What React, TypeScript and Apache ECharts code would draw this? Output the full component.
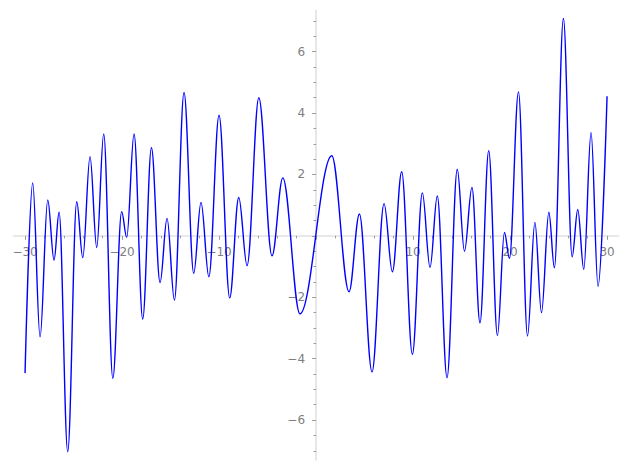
import { useEffect, useRef } from 'react';
import * as echarts from 'echarts';

// Curve: local extrema (x, y)
const X_VALUES = [
  -30.0, -29.21, -28.45, -27.66, -27.01, -26.49, -25.6, -24.67, -24.05, -23.3,
  -22.61, -21.89, -20.95, -20.04, -19.52, -18.76, -17.87, -16.97, -16.08, -15.36,
  -14.6, -13.61, -12.61, -11.86, -11.05, -10.0, -8.9, -7.97, -7.11, -5.9,
  -4.54, -3.43, -1.66, 1.62, 3.4, 4.47, 5.77, 7.01, 7.87, 8.83,
  9.93, 10.96, 11.75, 12.5, 13.5, 14.56, 15.3, 16.07, 16.9, 17.8,
  18.7, 19.42, 19.94, 20.87, 21.8, 22.56, 23.24, 24.0, 24.57, 25.5,
  26.4, 26.98, 27.6, 28.35, 29.07, 30.0,
];
const Y_VALUES = [
  -4.47, 1.72, -3.29, 1.17, -0.79, 0.77, -7.03, 1.11, -0.71, 2.58,
  -0.38, 3.32, -4.64, 0.79, -0.05, 3.32, -2.71, 2.87, -1.52, 0.57,
  -2.09, 4.67, -1.22, 1.09, -1.33, 3.93, -2.02, 1.25, -0.97, 4.5,
  -0.65, 1.89, -2.54, 2.61, -1.82, 0.71, -4.43, 1.05, -1.17, 2.09,
  -3.86, 1.4, -1.03, 1.3, -4.62, 2.17, -0.5, 1.58, -2.83, 2.77,
  -3.25, 0.11, -0.73, 4.69, -3.26, 0.44, -2.5, 0.77, -1.04, 7.08,
  -0.68, 0.86, -1.09, 3.36, -1.64, 4.55,
];

const X_MAJOR = [-30, -20, -10, 0, 10, 20, 30];
const X_MINOR = [-28, -26, -24, -22, -18, -16, -14, -12, -8, -6, -4, -2, 2, 4, 6, 8, 12, 14, 16, 18, 22, 24, 26, 28];
const Y_MAJOR = [-6, -4, -2, 0, 2, 4, 6];
const Y_MINOR = [-7, -6.5, -5.5, -5, -4.5, -3.5, -3, -2.5, -1.5, -1, -0.5, 0.5, 1, 1.5, 2.5, 3, 3.5, 4.5, 5, 5.5, 6.5, 7];
const X_LABELS = [-30, -20, -10, 10, 20, 30];
const Y_LABELS = [-6, -4, -2, 2, 4, 6];

const X_MIN = -31.2;
const X_MAX = 31.2;
const Y_MIN = -7.3;
const Y_MAX = 7.35;

export default function App() {
  const ref = useRef<HTMLDivElement>(null);
  useEffect(() => {
    if (!ref.current) return;
    const chart = echarts.init(ref.current, undefined, { renderer: 'svg' });
    const data = X_VALUES.map((x, i) => [x, Y_VALUES[i]]);
    const fmt = (v: number) => (v === 0 ? '' : v < 0 ? '\u2212' + Math.abs(v) : String(v));
    const gridRect = { left: 13.4, top: 10.2, width: 605.3, height: 449.8, outerBoundsMode: 'none' };
    const axisLine = { onZero: true, lineStyle: { color: '#e2e2e2', width: 1.6 } };
    const hiddenLine = { onZero: true, lineStyle: { color: '#ffffff', opacity: 0 } };
    const tickColor = '#9a9a9a';
    chart.setOption({
      animation: false,
      backgroundColor: '#ffffff',
      grid: [gridRect, gridRect],
      xAxis: [
        {
          type: 'value', gridIndex: 0, min: X_MIN, max: X_MAX,
          axisLine,
          axisTick: { show: true, customValues: X_MAJOR, length: 4, lineStyle: { color: tickColor, width: 1 } },
          axisLabel: { show: false },
          splitLine: { show: false },
        },
        {
          type: 'value', gridIndex: 1, min: X_MIN, max: X_MAX,
          axisLine: hiddenLine,
          axisTick: { show: true, customValues: X_MINOR, length: 2.5, lineStyle: { color: tickColor, width: 1 } },
          axisLabel: { show: false },
          splitLine: { show: false },
        },
      ],
      yAxis: [
        {
          type: 'value', gridIndex: 0, min: Y_MIN, max: Y_MAX,
          axisLine,
          axisTick: { show: true, customValues: Y_MAJOR, length: 4, lineStyle: { color: tickColor, width: 1 } },
          axisLabel: { show: false },
          splitLine: { show: false },
        },
        {
          type: 'value', gridIndex: 1, min: Y_MIN, max: Y_MAX,
          axisLine: hiddenLine,
          axisTick: { show: true, customValues: Y_MINOR, length: 2.5, lineStyle: { color: tickColor, width: 1 } },
          axisLabel: { show: false },
          splitLine: { show: false },
        },
      ],
      series: [
        {
          type: 'line',
          xAxisIndex: 0,
          yAxisIndex: 0,
          data,
          smooth: 0.36,
          smoothMonotone: 'x',
          showSymbol: false,
          symbol: 'none',
          lineStyle: { color: '#0000ff', width: 1.4 },
          z: 5,
        },
      ],
    });

    // Tick labels placed next to the axes that cross at zero, using the chart's own scales
    const font = '12px "DejaVu Sans"';
    const labelColor = '#808080';
    const origin = chart.convertToPixel({ xAxisIndex: 0, yAxisIndex: 0 }, [0, 0]) as number[];
    const graphics: any[] = [];
    X_LABELS.forEach((v) => {
      const p = chart.convertToPixel({ xAxisIndex: 0, yAxisIndex: 0 }, [v, 0]) as number[];
      graphics.push({
        type: 'text', x: p[0], y: origin[1] + 16, z: 1,
        style: { text: fmt(v), font, fill: labelColor, textAlign: 'center', textVerticalAlign: 'middle' },
      });
    });
    Y_LABELS.forEach((v) => {
      const p = chart.convertToPixel({ xAxisIndex: 0, yAxisIndex: 0 }, [0, v]) as number[];
      graphics.push({
        type: 'text', x: origin[0] - 11, y: p[1], z: 1,
        style: { text: fmt(v), font, fill: labelColor, textAlign: 'right', textVerticalAlign: 'middle' },
      });
    });
    chart.setOption({ graphic: graphics });

    return () => chart.dispose();
  }, []);
  return (
    <div
      ref={ref}
      style={{ position: 'absolute', left: 0, top: 0, width: 627, height: 470 }}
    />
  );
}
